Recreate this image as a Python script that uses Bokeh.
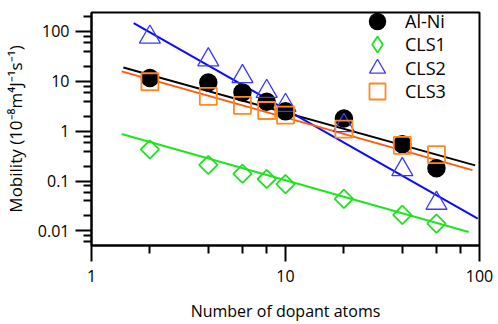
import numpy as np
from bokeh.plotting import figure
from bokeh.models import Range1d, FixedTicker, Legend, LegendItem
from bokeh.embed import file_html
from bokeh.resources import INLINE

# ---- data ----
n_atoms = [2, 4, 6, 8, 10, 20, 40, 60]
alni = [11.7, 9.5, 6.0, 3.9, 2.5, 1.8, 0.55, 0.18]
cls1 = [0.43, 0.21, 0.14, 0.11, 0.087, 0.044, 0.021, 0.014]
cls2 = [77, 27, 12.5, 6.3, 3.3, 1.3, 0.17, 0.036]
cls3 = [9.8, 5.0, 3.3, 2.6, 2.1, 1.1, 0.52, 0.34]

# power-law fit lines y = A * x**b, drawn between x_start and x_end
fit_names = ["Al-Ni", "CLS1", "CLS2", "CLS3"]
fit_A = [28.5, 1.30, 444.0, 23.4]
fit_b = [-1.082, -1.098, -2.21, -1.095]
fit_x_start = [1.46, 1.43, 1.65, 1.43]
fit_x_end = [95.0, 88.0, 98.0, 92.0]

x_major = [1, 10, 100]
x_minor = [2, 4, 6, 8, 20, 40, 60, 80]
y_major = [0.01, 0.1, 1, 10, 100]
y_minor = [m * d for d in [0.001, 0.01, 0.1, 1, 10, 100] for m in (2, 4, 6, 8)]

FONT = "Open Sans"

p = figure(width=498, height=324, x_axis_type="log", y_axis_type="log",
           x_range=Range1d(1, 100), y_range=Range1d(0.0051, 240),
           output_backend="svg", toolbar_location=None,
           min_border_left=91, min_border_right=19, min_border_top=12,
           min_border_bottom=67)

p.outline_line_color = "black"
p.outline_line_width = 2
p.outline_line_alpha = 1
p.grid.visible = False
p.background_fill_color = "white"

for ax in (p.xaxis[0], p.yaxis[0]):
    ax.axis_line_width = 2
    ax.axis_line_color = "black"
    ax.major_tick_line_width = 2
    ax.minor_tick_line_width = 2
    ax.major_tick_out = 16
    ax.major_tick_in = 0
    ax.minor_tick_out = 8
    ax.minor_tick_in = 0
    ax.major_label_text_font = FONT
    ax.major_label_text_font_size = "16px"
    ax.major_label_text_color = "black"
    ax.axis_label_text_font = FONT
    ax.axis_label_text_font_style = "normal"
    ax.axis_label_text_color = "black"

p.xaxis.axis_label_text_font_size = "16px"
p.yaxis.axis_label_text_font_size = "17px"
p.xaxis.ticker = FixedTicker(ticks=x_major, minor_ticks=x_minor)
p.yaxis.ticker = FixedTicker(ticks=y_major, minor_ticks=y_minor)
p.xaxis.major_label_overrides = {1: "1", 10: "10", 100: "100"}
p.yaxis.major_label_overrides = {0.01: "0.01", 0.1: "0.1", 1: "1", 10: "10", 100: "100"}
p.xaxis.major_label_standoff = 8
p.yaxis.major_label_standoff = 6
p.xaxis.axis_label = "Number of dopant atoms"
p.yaxis.axis_label = "Mobility (10\u207b\u2078m\u2074J\u207b\u00b9s\u207b\u00b9)"
p.xaxis.axis_label_standoff = 15
p.yaxis.axis_label_standoff = 8

line_colors = ["black", "#1ee61e", "#0a0aff", "#ff5a0a"]
for A, b, xs, xe, c in zip(fit_A, fit_b, fit_x_start, fit_x_end, line_colors):
    xx = [xs, xe]
    yy = [A * xs ** b, A * xe ** b]
    p.line(xx, yy, line_color=c, line_width=2)

r_alni = p.scatter(n_atoms, alni, marker="circle", size=17,
                   fill_color="black", line_color="black", line_width=1.5)
r_cls1 = p.scatter(n_atoms, cls1, marker="square", angle=np.pi / 4, size=13,
                   fill_color=None, line_color="#22e022", line_width=1.8)
r_cls2 = p.scatter(n_atoms, cls2, marker="triangle", size=21,
                   fill_color=None, line_color="#3a3aff", line_width=1.3)
r_cls3 = p.scatter(n_atoms, cls3, marker="square", size=17,
                   fill_color=None, line_color="#ff8a1f", line_width=1.8)
# legend-only stand-in for the diamond (legend glyphs ignore marker angle)
r_cls1_key = p.scatter(n_atoms, cls1, marker="diamond", size=13,
                       fill_color=None, line_color="#22e022", line_width=1.8,
                       visible=False)

# one single-entry legend per series (keeps large legend markers, tight rows)
legend_renderers = [r_alni, r_cls1_key, r_cls2, r_cls3]
legend_offsets = [204, 181, 157, 134]
for name, rend, off in zip(fit_names, legend_renderers, legend_offsets):
    lg = Legend(items=[LegendItem(label=name, renderers=[rend])],
                location=(266, off))
    lg.glyph_height = 40
    lg.glyph_width = 40
    lg.padding = 0
    lg.margin = 0
    lg.label_standoff = 8
    lg.label_height = 24
    lg.label_text_font = FONT
    lg.label_text_font_size = "18px"
    lg.label_text_color = "black"
    lg.background_fill_alpha = 0
    lg.border_line_alpha = 0
    lg.inactive_fill_alpha = 0
    p.add_layout(lg, "center")

open("out.html", "w").write(file_html(p, INLINE))
